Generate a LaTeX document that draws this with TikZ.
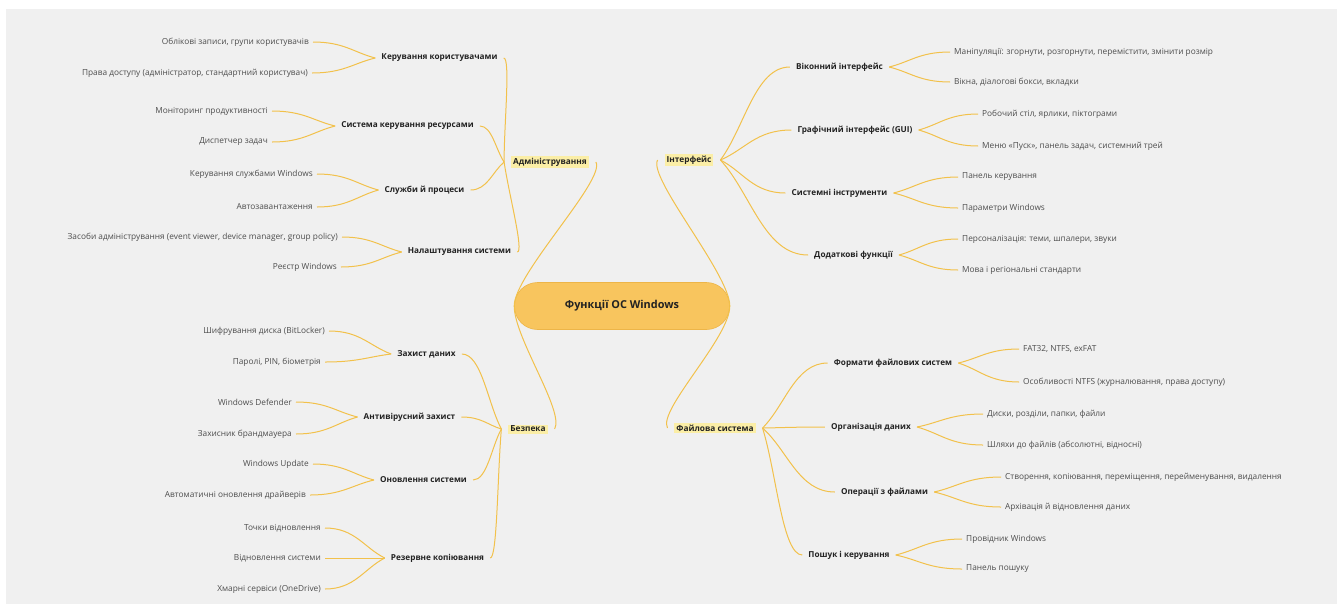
\documentclass[tikz,border=0pt]{standalone}
\usepackage{fontspec}
\setmainfont{Open Sans}
\usetikzlibrary{calc}

\definecolor{panel}{HTML}{F0F0F0}
\definecolor{wire}{HTML}{F2C14B}
\definecolor{pillfill}{HTML}{F8C55E}
\definecolor{pilldraw}{HTML}{EDB548}
\definecolor{hilite}{HTML}{FBEEA6}
\definecolor{leafink}{HTML}{4D4D4D}
\definecolor{topicink}{HTML}{222222}

\tikzset{
  wireline/.style={draw=wire, line width=1pt},
  mmleaf/.style={font=\fontsize{8.3}{10}\selectfont, text=leafink, inner xsep=4pt, inner ysep=1pt},
  mmtopic/.style={font=\fontsize{8.2}{10}\selectfont\bfseries, text=topicink, inner xsep=6pt, inner ysep=1pt},
  mmbranch/.style={font=\fontsize{8.3}{10}\selectfont\bfseries, text=topicink, fill=hilite,
    inner xsep=2pt, inner ysep=1.5pt, outer xsep=7pt},
  mmroot/.style={font=\fontsize{10.9}{13}\selectfont\bfseries, text=topicink, fill=pillfill,
    draw=pilldraw, line width=0.6pt, rounded corners=23pt, minimum width=215pt, minimum height=47pt}
}

% curved connector: leaves the hub towards the target, arrives horizontally
\newcommand\mmlink[2]{\draw[wireline] (#1) .. controls ($(#1)!0.35!(#2)$) and ($(#2)!0.5!(#1|-#2)$) .. (#2);}
% same, with an explicit horizontal hook length at the target
\newcommand\mmhook[3]{\draw[wireline] (#1) .. controls ($(#1)!0.35!(#2)$) and ($(#2)+(#3,0)$) .. (#2);}

\begin{document}
\begin{tikzpicture}[x=1pt, y=-1pt]
\useasboundingbox (0,0) rectangle (1343,611);
\fill[white] (0,0) rectangle (1343,611);
\fill[panel] (6,9) rectangle (1337,604);

% central topic
\node[mmroot] (root) at (622,306) {Функції ОС Windows};

% main branches
\node[mmbranch] (adm) at (550,162) {Адміністрування};
\node[mmbranch] (bez) at (528,429) {Безпека};
\node[mmbranch] (int) at (689,160) {Інтерфейс};
\node[mmbranch] (fs)  at (715,428) {Файлова система};

\draw[wireline] (root.west) .. controls +(0,-32) and +(10,18) .. (adm.east);
\draw[wireline] (root.west) .. controls +(0,32) and +(10,-18) .. (bez.east);
\draw[wireline] (root.east) .. controls +(0,-32) and +(-10,18) .. (int.west);
\draw[wireline] (root.east) .. controls +(0,32) and +(-10,-18) .. (fs.west);

% ---------- Адміністрування ----------
\node[mmtopic] (a1) at (439.5,58)  {Керування користувачами};
\node[mmtopic] (a2) at (407.5,126) {Система керування ресурсами};
\node[mmtopic] (a3) at (424.5,190) {Служби й процеси};
\node[mmtopic] (a4) at (459.5,252) {Налаштування системи};
\mmhook{adm.west}{a1.east}{7}
\mmlink{adm.west}{a2.east}
\mmlink{adm.west}{a3.east}
\mmhook{adm.west}{a4.east}{7}

\node[mmleaf, anchor=east] (a11) at (313,42)  {Облікові записи, групи користувачів};
\node[mmleaf, anchor=east] (a12) at (312,73)  {Права доступу (адміністратор, стандартний користувач)};
\node[mmleaf, anchor=east] (a21) at (272,111) {Моніторинг продуктивності};
\node[mmleaf, anchor=east] (a22) at (272,142) {Диспетчер задач};
\node[mmleaf, anchor=east] (a31) at (317,174) {Керування службами Windows};
\node[mmleaf, anchor=east] (a32) at (317,207) {Автозавантаження};
\node[mmleaf, anchor=east] (a41) at (342,237) {Засоби адміністрування (event viewer, device manager, group policy)};
\node[mmleaf, anchor=east] (a42) at (341,267) {Реєстр Windows};
\mmlink{a1.west}{a11.east}
\mmlink{a1.west}{a12.east}
\mmlink{a2.west}{a21.east}
\mmlink{a2.west}{a22.east}
\mmlink{a3.west}{a31.east}
\mmlink{a3.west}{a32.east}
\mmlink{a4.west}{a41.east}
\mmlink{a4.west}{a42.east}

% ---------- Безпека ----------
\node[mmtopic] (b1) at (426.5,354) {Захист даних};
\node[mmtopic] (b2) at (409.5,417) {Антивірусний захист};
\node[mmtopic] (b3) at (423.5,480) {Оновлення системи};
\node[mmtopic] (b4) at (437.5,558) {Резервне копіювання};
\mmlink{bez.west}{b1.east}
\mmlink{bez.west}{b2.east}
\mmlink{bez.west}{b3.east}
\mmhook{bez.west}{b4.east}{7}

\node[mmleaf, anchor=east] (b11) at (329,331) {Шифрування диска (BitLocker)};
\node[mmleaf, anchor=east] (b12) at (325,362) {Паролі, PIN, біометрія};
\node[mmleaf, anchor=east] (b21) at (296,402) {Windows Defender};
\node[mmleaf, anchor=east] (b22) at (296,434) {Захисник брандмауера};
\node[mmleaf, anchor=east] (b31) at (313,464) {Windows Update};
\node[mmleaf, anchor=east] (b32) at (310,495) {Автоматичні оновлення драйверів};
\node[mmleaf, anchor=east] (b41) at (325,528) {Точки відновлення};
\node[mmleaf, anchor=east] (b42) at (325,558) {Відновлення системи};
\node[mmleaf, anchor=east] (b43) at (325,589) {Хмарні сервіси (OneDrive)};
\mmlink{b1.west}{b11.east}
\mmlink{b1.west}{b12.east}
\mmlink{b2.west}{b21.east}
\mmlink{b2.west}{b22.east}
\mmlink{b3.west}{b31.east}
\mmlink{b3.west}{b32.east}
\mmlink{b4.west}{b41.east}
\mmlink{b4.west}{b42.east}
\mmlink{b4.west}{b43.east}

% ---------- Інтерфейс ----------
\node[mmtopic] (i1) at (839.5,67) {Віконний інтерфейс};
\node[mmtopic] (i2) at (855,130)  {Графічний інтерфейс (GUI)};
\node[mmtopic] (i3) at (839.5,193) {Системні інструменти};
\node[mmtopic] (i4) at (853.5,255) {Додаткові функції};
\mmlink{int.east}{i1.west}
\mmlink{int.east}{i2.west}
\mmlink{int.east}{i3.west}
\mmlink{int.east}{i4.west}

\node[mmleaf, anchor=west] (i11) at (950,52)  {Маніпуляції: згорнути, розгорнути, перемістити, змінити розмір};
\node[mmleaf, anchor=west] (i12) at (950,82)  {Вікна, діалогові бокси, вкладки};
\node[mmleaf, anchor=west] (i21) at (978,114) {Робочий стіл, ярлики, піктограми};
\node[mmleaf, anchor=west] (i22) at (978,146) {Меню «Пуск», панель задач, системний трей};
\node[mmleaf, anchor=west] (i31) at (958,177) {Панель керування};
\node[mmleaf, anchor=west] (i32) at (958,208) {Параметри Windows};
\node[mmleaf, anchor=west] (i41) at (958,239) {Персоналізація: теми, шпалери, звуки};
\node[mmleaf, anchor=west] (i42) at (958,270) {Мова і регіональні стандарти};
\mmlink{i1.east}{i11.west}
\mmlink{i1.east}{i12.west}
\mmlink{i2.east}{i21.west}
\mmlink{i2.east}{i22.west}
\mmlink{i3.east}{i31.west}
\mmlink{i3.east}{i32.west}
\mmlink{i4.east}{i41.west}
\mmlink{i4.east}{i42.west}

% ---------- Файлова система ----------
\node[mmtopic] (f1) at (893,363)   {Формати файлових систем};
\node[mmtopic] (f2) at (871,427)   {Організація даних};
\node[mmtopic] (f3) at (884.5,492) {Операції з файлами};
\node[mmtopic] (f4) at (849,555)   {Пошук і керування};
\mmlink{fs.east}{f1.west}
\mmlink{fs.east}{f2.west}
\mmlink{fs.east}{f3.west}
\mmlink{fs.east}{f4.west}

\node[mmleaf, anchor=west] (f11) at (1019,349) {FAT32, NTFS, exFAT};
\node[mmleaf, anchor=west] (f12) at (1019,382) {Особливості NTFS (журналювання, права доступу)};
\node[mmleaf, anchor=west] (f21) at (983,414)  {Диски, розділи, папки, файли};
\node[mmleaf, anchor=west] (f22) at (983,445)  {Шляхи до файлів (абсолютні, відносні)};
\node[mmleaf, anchor=west] (f31) at (1001,477) {Створення, копіювання, переміщення, перейменування, видалення};
\node[mmleaf, anchor=west] (f32) at (1001,507) {Архівація й відновлення даних};
\node[mmleaf, anchor=west] (f41) at (962,539)  {Провідник Windows};
\node[mmleaf, anchor=west] (f42) at (962,569)  {Панель пошуку};
\mmlink{f1.east}{f11.west}
\mmlink{f1.east}{f12.west}
\mmlink{f2.east}{f21.west}
\mmlink{f2.east}{f22.west}
\mmlink{f3.east}{f31.west}
\mmlink{f3.east}{f32.west}
\mmlink{f4.east}{f41.west}
\mmlink{f4.east}{f42.west}
\end{tikzpicture}
\end{document}
